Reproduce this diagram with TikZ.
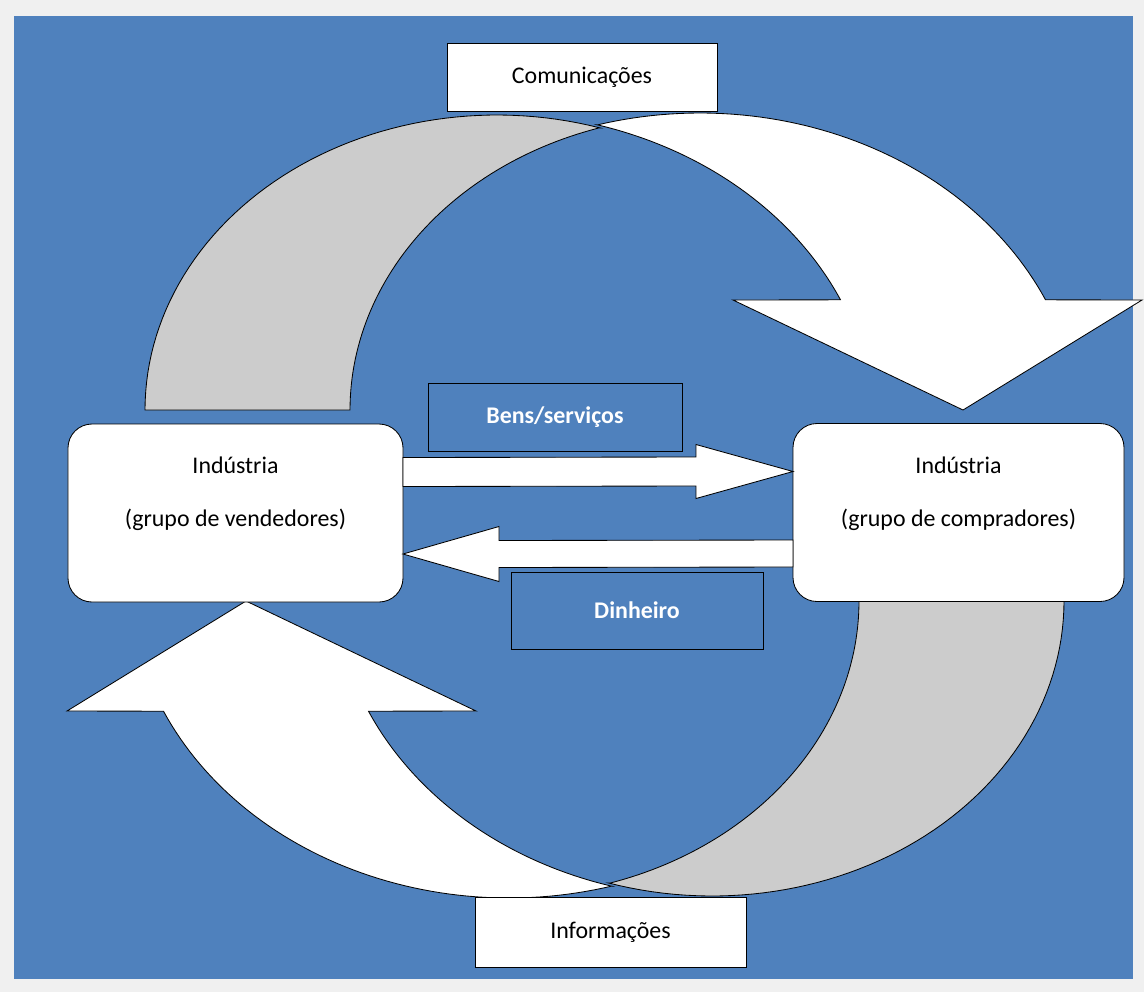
\documentclass[tikz,border=0pt]{standalone}
\usepackage{fontspec}
\setmainfont{Carlito}
\usepackage{xcolor}
\usetikzlibrary{calc}

\definecolor{panelblue}{RGB}{79,129,189}
\definecolor{backgray}{RGB}{204,204,204}
\definecolor{framegray}{RGB}{240,240,240}

\newcommand{\cyclearrow}{%
  \draw[band,fill=backgray]
    plot[variable=\t,domain=-180:-73,samples=60] ({497+352*cos(\t)},{410+295*sin(\t)})
    -- plot[variable=\t,domain=-107:-180,samples=60] ({702+352*cos(\t)},{410+295*sin(\t)})
    -- cycle;
  \draw[band,fill=white]
    plot[variable=\t,domain=-105.6:-24.6,samples=60] ({700+380*cos(\t)},{433+320*sin(\t)})
    -- (1142,300) -- (963,410) -- (733,300)
    -- plot[variable=\t,domain=-24.6:-74.4,samples=60] ({495+380*cos(\t)},{433+320*sin(\t)})
    -- cycle;
}

\begin{document}
\begin{tikzpicture}[x=0.25mm,y=-0.25mm,font=\fontsize{17}{20.4}\selectfont,
  band/.style={draw=black,line width=0.6pt},
  tag/.style={draw=black,line width=0.6pt,fill=white,inner sep=0pt,outer sep=0pt},
  flowtag/.style={tag,fill=panelblue,text=white,font=\fontsize{17}{20.4}\selectfont\bfseries},
  indbox/.style={draw=black,line width=0.6pt,fill=white,rounded corners=6mm,inner sep=0pt,outer sep=0pt,minimum width=83.75mm,minimum height=44.5mm},
  fatarrow/.style={band,fill=white}]
\useasboundingbox (0,0) rectangle (1144,992);
\fill[framegray] (0,0) rectangle (1144,992);
\fill[panelblue] (14,16) rectangle (1133,979);

% the two curved arrows
\cyclearrow
\begin{scope}[rotate around={180:(604.5,505.5)}]
\cyclearrow
\end{scope}

\node[indbox] (vend) at (235.5,513) {};
\node[indbox,minimum width=82.75mm] (comp) at (958.5,512.5) {};
\node[align=center] (vendtxt) at ($(vend)+(0,-19.5)$) {Indústria\\[17.3pt](grupo de vendedores)};
\node[align=center] (comptxt) at ($(comp)+(0,-18.5)$) {Indústria\\[17.3pt](grupo de compradores)};

\node[tag,minimum width=67.5mm,minimum height=17mm] (comm) at (582,77) {Comunicações};
\node[tag,minimum width=67.75mm,minimum height=17.5mm] (info) at (610.5,932) {Informações};
\node[flowtag,minimum width=63.5mm,minimum height=17mm] (goods) at (555,417) {Bens/serviços};
\node[flowtag,minimum width=63mm,minimum height=19.25mm] (money) at (637,610.5) {Dinheiro};

% goods and money
\coordinate (gs) at ($(vend.east)+(0,-41)$);
\coordinate (ge) at ($(comp.west)+(0,-41)$);
\draw[fatarrow] ($(gs)+(0,-14.5)$) -- ($(ge)+(-97,-14.5)$) -- ($(ge)+(-97,-27)$) -- (ge)
  -- ($(ge)+(-97,27)$) -- ($(ge)+(-97,14.5)$) -- ($(gs)+(0,14.5)$) -- cycle;
\coordinate (ms) at ($(comp.west)+(0,41)$);
\coordinate (me) at ($(vend.east)+(0,41)$);
\draw[fatarrow] ($(ms)+(0,-13.5)$) -- ($(me)+(96,-13.5)$) -- ($(me)+(96,-27.5)$) -- (me)
  -- ($(me)+(96,27.5)$) -- ($(me)+(96,13.5)$) -- ($(ms)+(0,13.5)$) -- cycle;
\end{tikzpicture}
\end{document}
